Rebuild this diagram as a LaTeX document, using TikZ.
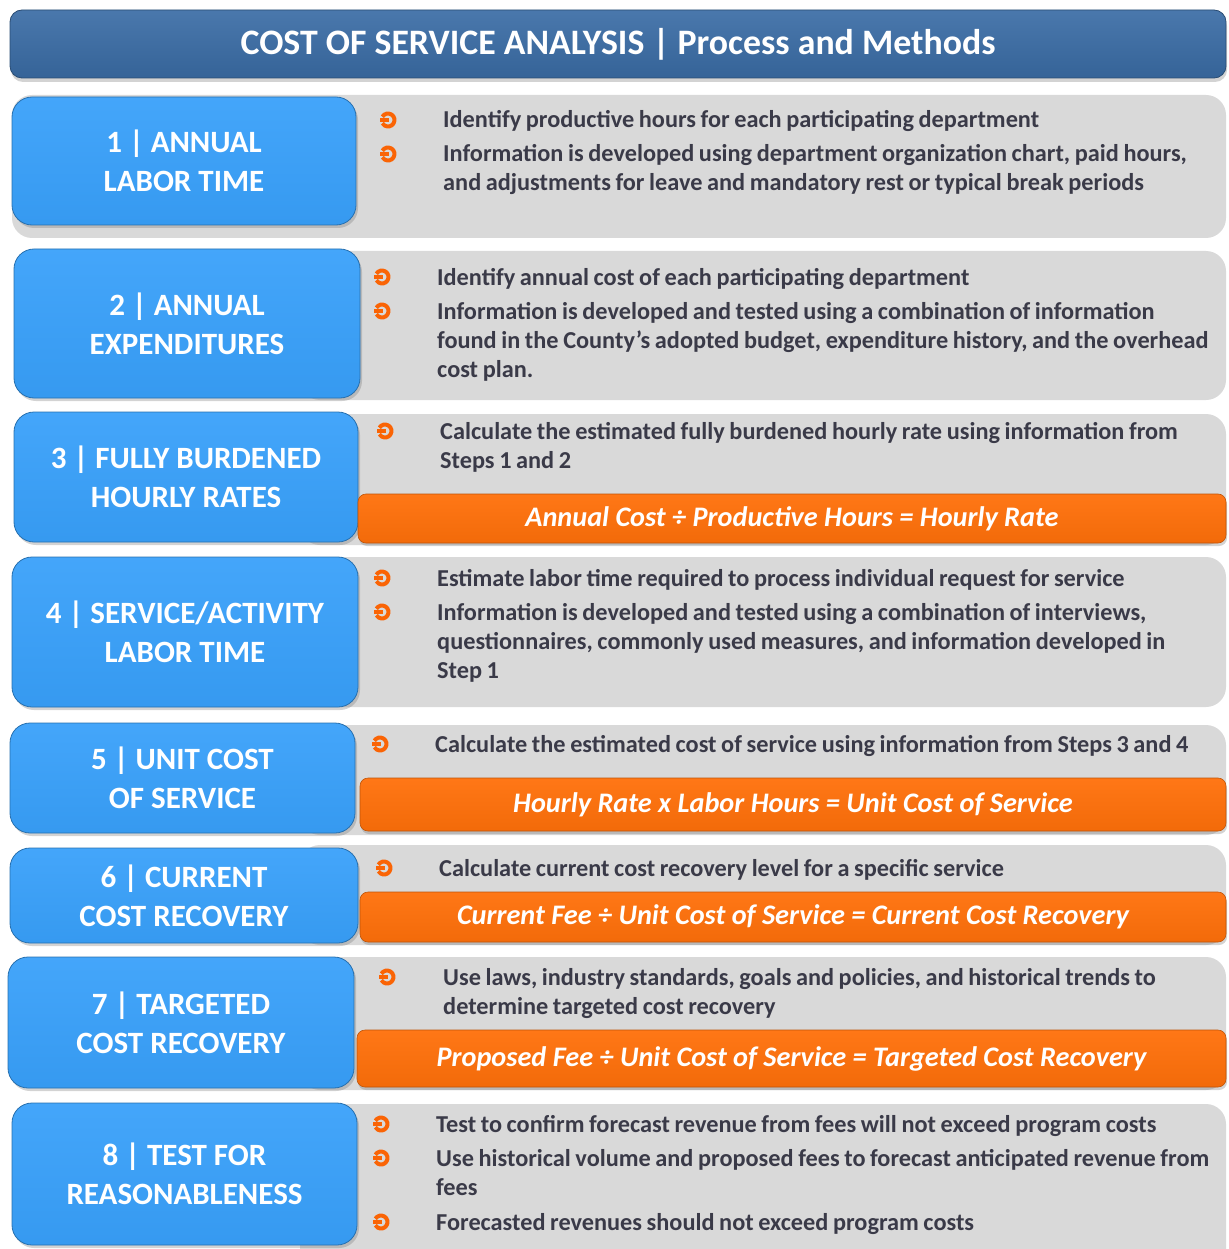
\documentclass[tikz,border=0pt]{standalone}
\usepackage{fontspec}
\setmainfont{Carlito}
\usetikzlibrary{shadows}

\definecolor{titleblue}{RGB}{58,108,165}
\definecolor{stepblue}{RGB}{56,160,250}
\definecolor{panelgrey}{RGB}{217,217,217}
\definecolor{rateorange}{RGB}{255,112,10}
\definecolor{bulletorange}{RGB}{250,100,5}
\definecolor{bodytext}{RGB}{58,58,72}

\newcommand\notespace{\spaceskip=4.6pt plus 1pt minus 0.5pt\xspaceskip=5pt plus 1pt\relax}

\tikzset{
  titlebar/.style={rounded corners=12, top color=titleblue!92!white, bottom color=titleblue!92!black,
    draw=titleblue!70!black, line width=0.8, drop shadow={shadow xshift=1pt, shadow yshift=-4pt, opacity=.35},
    text=white, font=\fontsize{35.8}{40}\selectfont\bfseries, inner sep=0},
  stepbox/.style={rounded corners=20, top color=stepblue!94!white, bottom color=stepblue!96!black,
    draw=stepblue!70!black, line width=0.8, drop shadow={shadow xshift=2pt, shadow yshift=-3pt, opacity=.35},
    text=white, font=\fontsize{31}{39}\selectfont\bfseries, align=center, inner sep=0},
  ratebar/.style={rounded corners=8, top color=rateorange!95!white, bottom color=rateorange!95!black,
    draw=rateorange!75!black, line width=0.6, drop shadow={shadow xshift=1pt, shadow yshift=-3pt, opacity=.35},
    text=white, font=\fontsize{28.3}{32}\selectfont\bfseries\itshape, inner sep=0},
  note/.style={anchor=base west, text width=840, align=left, inner sep=0, text=bodytext,
    font=\fontsize{24.3}{29}\selectfont\bfseries, execute at begin node=\notespace},
  panel/.style={fill=panelgrey, rounded corners=20},
  pics/bul/.style={code={
    \draw[bulletorange, line width=4] (-150:6.5) arc[start angle=-150, end angle=150, radius=6.5];
    \draw[bulletorange, line width=3.8] (-8,0) -- (0.5,0);
  }}
}

\begin{document}
\begin{tikzpicture}[x=1pt, y=-1pt]
\useasboundingbox (0,0) rectangle (1228,1249);

% grey panels behind the steps
\fill[panel] (12,95) rectangle (1226,238);
\fill[panel] (300,251) rectangle (1226,400);
\fill[panel] (300,414) rectangle (1226,545);
\fill[panel] (300,557) rectangle (1226,707);
\fill[panel] (300,725) rectangle (1226,835);
\fill[panel] (300,845) rectangle (1226,945);
\fill[panel] (300,957) rectangle (1226,1090);
\fill[panel] (300,1104) rectangle (1226,1275);

\node[titlebar, minimum width=1216, minimum height=68] (title) at (618,44) {COST OF SERVICE ANALYSIS | Process and Methods};

% steps
\node[stepbox, minimum width=344, minimum height=128] (s1) at (184,161) {1 | ANNUAL\\LABOR TIME};
\node[stepbox, minimum width=346, minimum height=149] (s2) at (187,323.5) {2 | ANNUAL\\EXPENDITURES};
\node[stepbox, minimum width=344, minimum height=130] (s3) at (186,477) {3 | FULLY BURDENED\\HOURLY RATES};
\node[stepbox, minimum width=346, minimum height=150] (s4) at (185,632) {4 | SERVICE/ACTIVITY\\LABOR TIME};
\node[stepbox, minimum width=345, minimum height=110] (s5) at (182.5,778) {5 | UNIT COST\\OF SERVICE};
\node[stepbox, minimum width=348, minimum height=95] (s6) at (184,895.5) {6 | CURRENT\\COST RECOVERY};
\node[stepbox, minimum width=346, minimum height=131] (s7) at (181,1022.5) {7 | TARGETED\\COST RECOVERY};
\node[stepbox, minimum width=345, minimum height=142] (s8) at (184.5,1174) {8 | TEST FOR\\REASONABLENESS};

% formulas
\node[ratebar, minimum width=868, minimum height=49] (r3) at (792,518.5) {Annual Cost ÷ Productive Hours = Hourly Rate};
\node[ratebar, minimum width=866, minimum height=53] (r5) at (793,804.5) {Hourly Rate x Labor Hours = Unit Cost of Service};
\node[ratebar, minimum width=866, minimum height=50] (r6) at (793,917) {Current Fee ÷ Unit Cost of Service = Current Cost Recovery};
\node[ratebar, minimum width=869, minimum height=57] (r7) at (791.5,1058.5) {Proposed Fee ÷ Unit Cost of Service = Targeted Cost Recovery};

% bullets
\pic at (388,120) {bul};
\pic at (388,154) {bul};
\pic at (382,277) {bul};
\pic at (382,311) {bul};
\pic at (385,431) {bul};
\pic at (382,578) {bul};
\pic at (382,612) {bul};
\pic at (380,744) {bul};
\pic at (384,868) {bul};
\pic at (387,977) {bul};
\pic at (381,1124) {bul};
\pic at (381,1158) {bul};
\pic at (381,1222) {bul};

% notes
\node[note] (n1a) at (443,128) {Identify productive hours for each participating department};
\node[note] (n1b) at (443,162) {Information is developed using department organization chart, paid hours,\\and adjustments for leave and mandatory rest or typical break periods};
\node[note] (n2a) at (437,285) {Identify annual cost of each participating department};
\node[note] (n2b) at (437,319) {Information is developed and tested using a combination of information\\found in the County’s adopted budget, expenditure history, and the overhead\\cost plan.};
\node[note] (n3a) at (440,439) {Calculate the estimated fully burdened hourly rate using information from\\Steps 1 and 2};
\node[note] (n4a) at (437,586) {Estimate labor time required to process individual request for service};
\node[note] (n4b) at (437,620) {Information is developed and tested using a combination of interviews,\\questionnaires, commonly used measures, and information developed in\\Step 1};
\node[note] (n5a) at (435,752) {Calculate the estimated cost of service using information from Steps 3 and 4};
\node[note] (n6a) at (439,876) {Calculate current cost recovery level for a specific service};
\node[note] (n7a) at (443,985) {Use laws, industry standards, goals and policies, and historical trends to\\determine targeted cost recovery};
\node[note] (n8a) at (436,1132) {Test to confirm forecast revenue from fees will not exceed program costs};
\node[note] (n8b) at (436,1166) {Use historical volume and proposed fees to forecast anticipated revenue from\\fees};
\node[note] (n8c) at (436,1230) {Forecasted revenues should not exceed program costs};
\end{tikzpicture}
\end{document}
